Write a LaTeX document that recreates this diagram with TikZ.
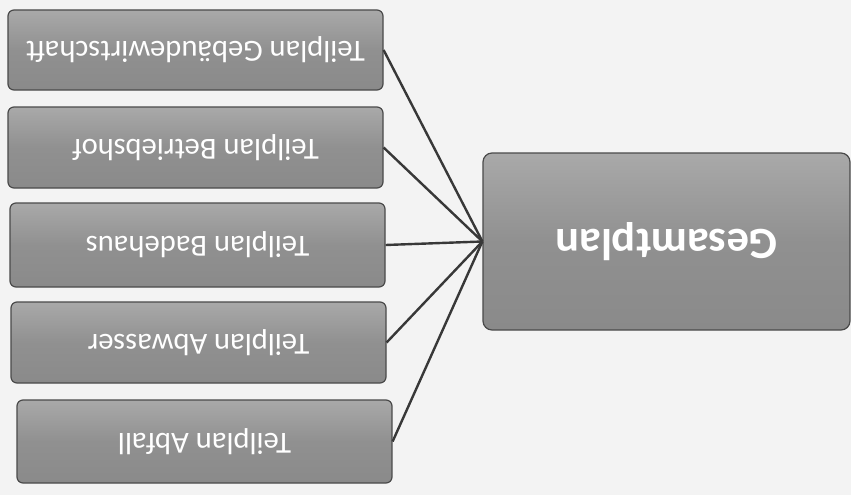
\documentclass[tikz,border=0pt]{standalone}
\usepackage{fontspec}
\setmainfont{Carlito}
\usetikzlibrary{shadings}
\definecolor{bgcol}{HTML}{F3F3F3}
\definecolor{boxtop}{HTML}{8A8A8A}
\definecolor{boxbot}{HTML}{A9A9A9}
\definecolor{boxedge}{HTML}{4A4A4A}
\definecolor{linecol}{HTML}{383838}
% nodes are turned upside down as in the reference; after rotate=180
% a node's "west" anchor lies on its visual right side.
\tikzset{
  teilbox/.style={draw=boxedge, line width=1.2pt, rounded corners=6pt,
    rotate=180,
    top color=boxbot, bottom color=boxtop, middle color=boxtop!80!boxbot,
    text=white, inner sep=0pt, minimum width=375pt,
    font=\fontsize{30.6}{32}\selectfont},
  gesbox/.style={draw=boxedge, line width=1.2pt, rounded corners=9pt,
    rotate=180,
    top color=boxbot, bottom color=boxtop, middle color=boxtop!80!boxbot,
    text=white, inner sep=0pt, minimum width=367pt, minimum height=177pt,
    font=\fontsize{44.5}{46}\selectfont\bfseries},
  conn/.style={draw=linecol, line width=2.4pt}
}
\begin{document}
\begin{tikzpicture}[x=1pt,y=1pt]
\fill[bgcol] (0,0) rectangle (851,-495);
\useasboundingbox (0,0) rectangle (851,-495);
\node[teilbox, minimum height=80pt] (t1) at (195.5,-50) {Teilplan Gebäudewirtschaft};
\node[teilbox, minimum height=81pt] (t2) at (195.5,-147.5) {Teilplan Betriebshof};
\node[teilbox, minimum height=84pt] (t3) at (197.5,-245) {Teilplan Badehaus};
\node[teilbox, minimum height=81pt] (t4) at (198.5,-342.5) {Teilplan Abwasser};
\node[teilbox, minimum height=83pt] (t5) at (204.5,-441.5) {Teilplan Abfall};
\node[gesbox] (g) at (666.5,-241.5) {Gesamtplan};
\foreach \n in {t1,t2,t3,t4,t5} {
  \draw[conn] (\n.west) -- (g.east);
}
\end{tikzpicture}
\end{document}
